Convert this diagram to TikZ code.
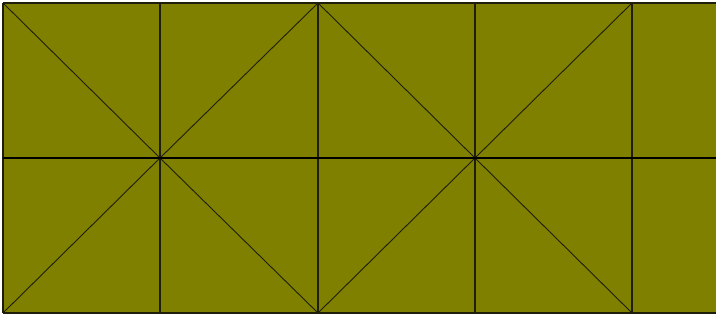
\documentclass[tikz,border=0pt]{standalone}
\usepackage{tikz}
\usetikzlibrary{calc}
\definecolor{olivefill}{HTML}{808000}
\definecolor{meshline}{HTML}{1E1E0A}

\begin{document}
\begin{tikzpicture}[x=1pt,y=-1pt,
  gridline/.style={draw=meshline,line width=1.1pt},
  midline/.style={draw=black,line width=2pt},
  diagline/.style={draw=meshline,line width=0.9pt}]
\useasboundingbox (0,0) rectangle (716,320);
\fill[olivefill] (3,3) rectangle (716,313);
% mesh points
\foreach \i/\x in {0/3,1/160,2/318,3/475,4/632}{
  \coordinate (t\i) at (\x,3);
  \coordinate (m\i) at (\x,158);
  \coordinate (b\i) at (\x,313);
}
\coordinate (tr) at (716,3);
\coordinate (mr) at (716,158);
\coordinate (br) at (716,313);
% diagonals
\draw[diagline] (t0) -- (m1) -- (t2) -- (m3) -- (t4);
\draw[diagline] (b0) -- (m1) -- (b2) -- (m3) -- (b4);
% grid
\foreach \i in {0,...,4}
  \draw[gridline] (t\i) -- (b\i);
\draw[gridline] (t0) -- (tr);
\draw[gridline] (b0) -- (br);
\draw[midline] (m0) -- (mr);
\end{tikzpicture}
\end{document}
